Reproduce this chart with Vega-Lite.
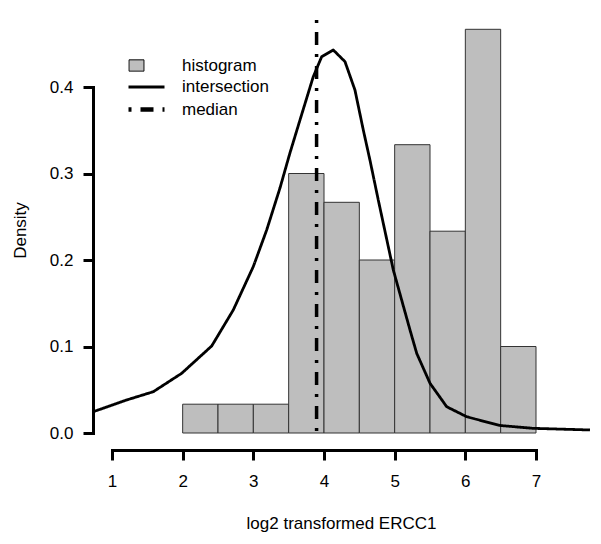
{
  "$schema": "https://vega.github.io/schema/vega-lite/v6.json",
  "width": 424,
  "height": 346,
  "autosize": {"type": "none"},
  "padding": {"left": 112, "top": 87, "right": 65, "bottom": 111},
  "background": "white",
  "datasets": {
    "bins": [
      {"start": 2.0, "end": 2.5, "density": 0.0333, "series": "histogram"},
      {"start": 2.5, "end": 3.0, "density": 0.0333, "series": "histogram"},
      {"start": 3.0, "end": 3.5, "density": 0.0333, "series": "histogram"},
      {"start": 3.5, "end": 4.0, "density": 0.3, "series": "histogram"},
      {"start": 4.0, "end": 4.5, "density": 0.2667, "series": "histogram"},
      {"start": 4.5, "end": 5.0, "density": 0.2, "series": "histogram"},
      {"start": 5.0, "end": 5.5, "density": 0.3333, "series": "histogram"},
      {"start": 5.5, "end": 6.0, "density": 0.2333, "series": "histogram"},
      {"start": 6.0, "end": 6.5, "density": 0.4667, "series": "histogram"},
      {"start": 6.5, "end": 7.0, "density": 0.1, "series": "histogram"}
    ],
    "curve": [
      {"x": 0.745, "y": 0.0249, "series": "intersection"},
      {"x": 1.208, "y": 0.0382, "series": "intersection"},
      {"x": 1.584, "y": 0.0477, "series": "intersection"},
      {"x": 1.986, "y": 0.069, "series": "intersection"},
      {"x": 2.411, "y": 0.1006, "series": "intersection"},
      {"x": 2.716, "y": 0.1422, "series": "intersection"},
      {"x": 2.999, "y": 0.1923, "series": "intersection"},
      {"x": 3.189, "y": 0.2347, "series": "intersection"},
      {"x": 3.377, "y": 0.2832, "series": "intersection"},
      {"x": 3.518, "y": 0.3237, "series": "intersection"},
      {"x": 3.66, "y": 0.3618, "series": "intersection"},
      {"x": 3.848, "y": 0.4119, "series": "intersection"},
      {"x": 3.967, "y": 0.435, "series": "intersection"},
      {"x": 4.131, "y": 0.4428, "series": "intersection"},
      {"x": 4.297, "y": 0.4293, "series": "intersection"},
      {"x": 4.438, "y": 0.3965, "series": "intersection"},
      {"x": 4.556, "y": 0.3503, "series": "intersection"},
      {"x": 4.65, "y": 0.3156, "series": "intersection"},
      {"x": 4.768, "y": 0.2694, "series": "intersection"},
      {"x": 4.981, "y": 0.1884, "series": "intersection"},
      {"x": 5.217, "y": 0.1191, "series": "intersection"},
      {"x": 5.312, "y": 0.0921, "series": "intersection"},
      {"x": 5.5, "y": 0.0575, "series": "intersection"},
      {"x": 5.736, "y": 0.0304, "series": "intersection"},
      {"x": 6.019, "y": 0.0188, "series": "intersection"},
      {"x": 6.49, "y": 0.0087, "series": "intersection"},
      {"x": 6.957, "y": 0.0054, "series": "intersection"},
      {"x": 7.764, "y": 0.0035, "series": "intersection"}
    ],
    "median": [
      {"x": 3.895, "series": "median"}
    ]
  },
  "layer": [
    {
      "data": {"name": "bins"},
      "mark": {"type": "rect", "stroke": "#333333", "strokeWidth": 1, "fillOpacity": 1},
      "encoding": {
        "x": {
          "field": "start", "type": "quantitative",
          "scale": {"domain": [1, 7], "nice": false, "zero": false},
          "axis": {
            "values": [1, 2, 3, 4, 5, 6, 7],
            "format": "d",
            "offset": 17,
            "labelPadding": 13,
            "labelFlush": false,
            "labelOverlap": false,
            "title": "log2 transformed ERCC1",
            "titlePadding": 26,
            "titleX": 229
          }
        },
        "x2": {"field": "end"},
        "y": {
          "field": "density", "type": "quantitative",
          "scale": {"domain": [0, 0.4], "nice": false},
          "axis": {
            "values": [0, 0.1, 0.2, 0.3, 0.4],
            "format": ".1f",
            "offset": 19,
            "labelPadding": 10,
            "labelFlush": false,
            "labelOverlap": false,
            "title": "Density",
            "titlePadding": 20,
            "titleY": 143
          }
        },
        "y2": {"datum": 0},
        "fill": {
          "field": "series", "type": "nominal",
          "scale": {"domain": ["histogram", "intersection", "median"], "range": ["#bebebe", "transparent", "transparent"]},
          "legend": {"title": null}
        }
      }
    },
    {
      "data": {"name": "curve"},
      "mark": {"type": "line", "stroke": "black", "strokeJoin": "round", "interpolate": "linear"},
      "encoding": {
        "x": {"field": "x", "type": "quantitative"},
        "y": {"field": "y", "type": "quantitative"},
        "strokeDash": {
          "field": "series", "type": "nominal",
          "scale": {"domain": ["histogram", "intersection", "median"], "range": [[1, 0], [1, 0], [3, 9, 13, 9]]},
          "legend": {"title": null}
        },
        "strokeWidth": {
          "field": "series", "type": "ordinal",
          "scale": {"domain": ["histogram", "intersection", "median"], "range": [1, 4.6]},
          "legend": {"title": null}
        }
      }
    },
    {
      "data": {"name": "median"},
      "mark": {"type": "rule", "stroke": "black", "strokeWidth": 3.5},
      "encoding": {
        "x": {"field": "x", "type": "quantitative"},
        "y": {"datum": 0.4775},
        "y2": {"datum": -0.0046},
        "strokeDash": {"field": "series", "type": "nominal", "legend": {"title": null}}
      }
    },
    {
      "data": {"name": "median"},
      "mark": {"type": "point", "size": 0, "stroke": "black"},
      "encoding": {
        "x": {"field": "x", "type": "quantitative"},
        "y": {"datum": 0},
        "shape": {
          "field": "series", "type": "nominal",
          "scale": {"domain": ["histogram", "intersection", "median"], "range": ["M-1.94,-0.63H-0.28V0.63H-1.94Z", "M-2,0H2", "M-2,0H2"]},
          "legend": {"title": null}
        }
      }
    }
  ],
  "config": {
    "view": {"stroke": null},
    "legend": {
      "orient": "none",
      "legendX": 23,
      "legendY": -31,
      "padding": 0,
      "rowPadding": 2.5,
      "symbolSize": 324,
      "symbolStrokeColor": "black",
      "symbolOpacity": 1,
      "labelOffset": 24,
      "labelFont": "Liberation Sans",
      "labelFontSize": 17,
      "labelColor": "black"
    },
    "axis": {
      "grid": false,
      "domainColor": "black",
      "domainWidth": 3,
      "domainCap": "square",
      "tickColor": "black",
      "tickWidth": 3,
      "tickSize": 10,
      "labelColor": "black",
      "labelFont": "Liberation Sans",
      "labelFontSize": 17,
      "titleColor": "black",
      "titleFont": "Liberation Sans",
      "titleFontSize": 17,
      "titleFontWeight": "normal"
    }
  }
}
